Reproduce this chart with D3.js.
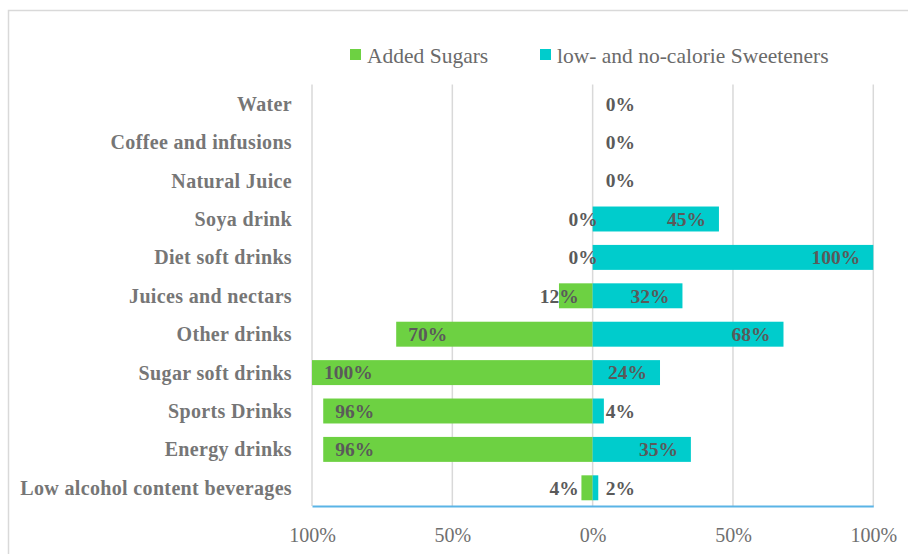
<!DOCTYPE html>
<html><head><meta charset="utf-8">
<script src="https://cdn.jsdelivr.net/npm/d3@7"></script>
<style>body{margin:0;background:#fff}svg{display:block}</style>
</head><body><svg id="c" width="908" height="554"></svg>
<script>
const categories = ["Water","Coffee and infusions","Natural Juice","Soya drink","Diet soft drinks","Juices and nectars","Other drinks","Sugar soft drinks","Sports Drinks","Energy drinks","Low alcohol content beverages"];
const addedSugars = [null,null,null,0,0,12,70,100,96,96,4];
const sweeteners = [0,0,0,45,100,32,68,24,4,35,2];
const tickValues = [-100,-50,0,50,100];
const tickLabels = ["100%","50%","0%","50%","100%"];
const seriesNames = ["Added Sugars","low- and no-calorie Sweeteners"];
const colors = ["#6dd142","#00cccc"];

const font = "'Liberation Serif', serif";
const svg = d3.select("#c");
svg.append("rect").attr("x",8.5).attr("y",10.5).attr("width",920).attr("height",560)
  .attr("fill","none").attr("stroke","#d9d9d9").attr("stroke-width",1.5);

const x = d3.scaleLinear().domain([-100,100]).range([312,873.3]);
const y = d3.scaleBand().domain(categories).range([84.6,507]).paddingInner(0.35).paddingOuter(0.175);

// gridlines
svg.append("g").selectAll("line").data(tickValues).join("line")
  .attr("x1",d=>x(d)).attr("x2",d=>x(d)).attr("y1",84.6).attr("y2",506)
  .attr("stroke","#d9d9d9").attr("stroke-width",1.5);

// bars
const rows = categories.map((c,i)=>({c, a:addedSugars[i], s:sweeteners[i]}));
svg.append("g").selectAll("rect").data(rows.filter(d=>d.a)).join("rect")
  .attr("x",d=>x(-d.a)).attr("width",d=>x(0)-x(-d.a)).attr("y",d=>y(d.c)).attr("height",y.bandwidth())
  .attr("fill",colors[0]);
svg.append("g").selectAll("rect").data(rows.filter(d=>d.s)).join("rect")
  .attr("x",x(0)).attr("width",d=>x(d.s)-x(0)).attr("y",d=>y(d.c)).attr("height",y.bandwidth())
  .attr("fill",colors[1]);

// data labels
const lab = svg.append("g").attr("font-family",font).attr("font-weight","bold").attr("font-size",19.5).attr("fill","#5a5a5a");
rows.forEach(d=>{
  const cy = y(d.c)+y.bandwidth()/2;
  if(d.a!==null){
    let tx, anchor;
    if(d.a===0){tx=x(0)+5;anchor="end";}
    else if(d.a<20){tx=x(0)-14;anchor="end";}
    else {tx=x(-d.a)+12;anchor="start";}
    lab.append("text").attr("x",tx).attr("y",cy).attr("dy","0.35em").attr("text-anchor",anchor).text(d.a+"%");
  }
  if(d.s!==null){
    let tx, anchor;
    if(d.s<10){tx=x(0)+13;anchor="start";}
    else {tx=x(d.s)-13;anchor="end";}
    lab.append("text").attr("x",tx).attr("y",cy).attr("dy","0.35em").attr("text-anchor",anchor).text(d.s+"%");
  }
});

// category labels
const yAxis = d3.axisLeft(y).tickSize(0).tickPadding(0);
const gy = svg.append("g").attr("transform","translate(292,0)").call(yAxis);
gy.select(".domain").remove();
gy.selectAll("text").attr("font-family",font).attr("font-weight","bold").attr("font-size",20).attr("letter-spacing","0.35px").attr("fill","#767676").attr("dy","0.35em");

// x axis
const xAxis = d3.axisBottom(x).tickValues(tickValues).tickFormat((d,i)=>tickLabels[i]).tickSize(0).tickPadding(22);
const gx = svg.append("g").attr("transform","translate(0,506)").call(xAxis);
gx.select(".domain").attr("stroke","#5ab4e6").attr("stroke-width",2);
gx.selectAll("text").attr("font-family",font).attr("font-size",20).attr("fill","#6f6f6f");

// legend
const leg = svg.append("g").attr("font-family",font).attr("font-size",21.5).attr("fill","#6a6a6a");
const legX = [350,540];
seriesNames.forEach((n,i)=>{
  leg.append("rect").attr("x",legX[i]).attr("y",49).attr("width",11).attr("height",11).attr("fill",colors[i]);
  leg.append("text").attr("x",legX[i]+17).attr("y",55).attr("dy","0.35em").text(n);
});
</script></body></html>
